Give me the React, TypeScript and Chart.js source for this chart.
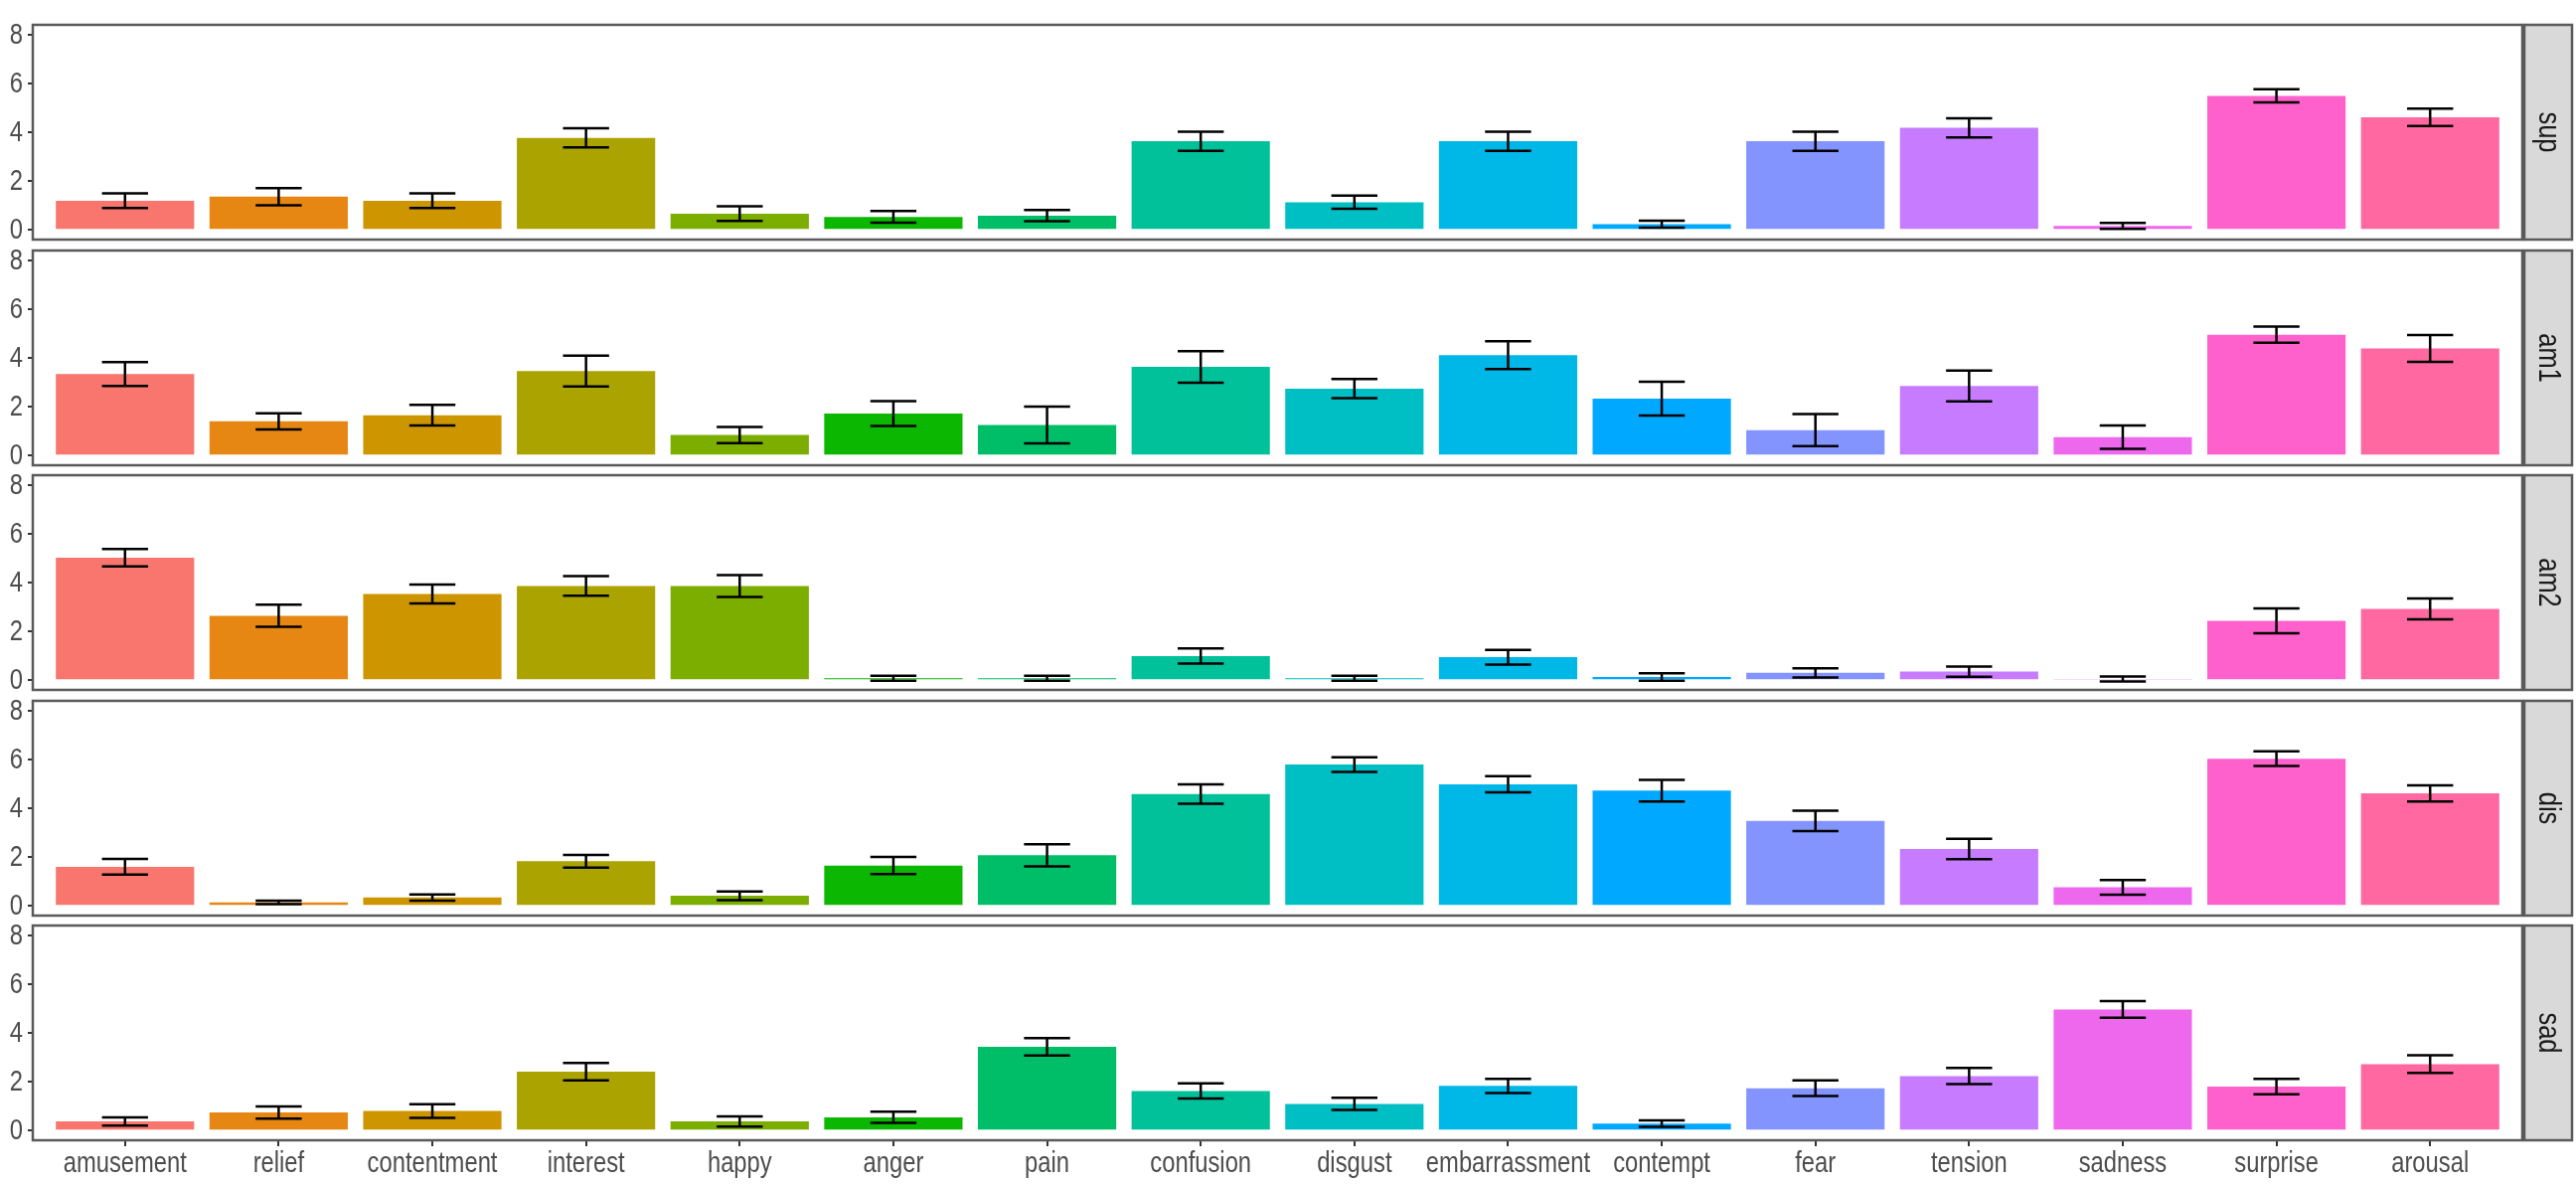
import { useEffect, useRef } from 'react';
import { Chart, registerables } from 'chart.js';

Chart.register(...registerables);

// categories along the x axis
const emotions = [
  'amusement', 'relief', 'contentment', 'interest', 'happy', 'anger', 'pain', 'confusion',
  'disgust', 'embarrassment', 'contempt', 'fear', 'tension', 'sadness', 'surprise', 'arousal',
];

// ggplot hue palette, 16 levels
const barColors = [
  '#F8766D', '#E68613', '#CD9600', '#ABA300', '#7CAE00', '#0CB702', '#00BE67', '#00C19A',
  '#00BFC4', '#00B8E7', '#00A9FF', '#8494FF', '#C77CFF', '#ED68ED', '#FF61CC', '#FF68A1',
];

const yTicks = [0, 2, 4, 6, 8];

// mean ratings and standard errors per condition
const supMean = [1.19, 1.36, 1.19, 3.77, 0.66, 0.53, 0.58, 3.63, 1.13, 3.63, 0.23, 3.63, 4.18, 0.16, 5.49, 4.61];
const supErr = [0.3, 0.35, 0.3, 0.39, 0.3, 0.24, 0.23, 0.39, 0.27, 0.39, 0.14, 0.39, 0.39, 0.12, 0.27, 0.36];

const am1Mean = [3.34, 1.4, 1.65, 3.46, 0.84, 1.72, 1.25, 3.63, 2.74, 4.11, 2.33, 1.04, 2.85, 0.75, 4.95, 4.39];
const am1Err = [0.49, 0.33, 0.42, 0.63, 0.33, 0.51, 0.75, 0.65, 0.39, 0.57, 0.69, 0.66, 0.63, 0.48, 0.33, 0.55];

const am2Mean = [5.02, 2.64, 3.53, 3.86, 3.86, 0.08, 0.08, 0.99, 0.08, 0.94, 0.13, 0.3, 0.35, 0.05, 2.43, 2.92];
const am2Err = [0.36, 0.45, 0.39, 0.4, 0.45, 0.1, 0.1, 0.31, 0.1, 0.3, 0.15, 0.19, 0.21, 0.1, 0.51, 0.43];

const disMean = [1.6, 0.14, 0.34, 1.83, 0.41, 1.65, 2.07, 4.58, 5.79, 4.98, 4.72, 3.48, 2.33, 0.76, 6.03, 4.61];
const disErr = [0.32, 0.07, 0.13, 0.26, 0.18, 0.35, 0.45, 0.4, 0.3, 0.33, 0.44, 0.42, 0.42, 0.3, 0.3, 0.33];

const sadMean = [0.37, 0.74, 0.8, 2.41, 0.37, 0.54, 3.43, 1.62, 1.09, 1.83, 0.28, 1.73, 2.23, 4.96, 1.8, 2.72];
const sadErr = [0.17, 0.25, 0.28, 0.36, 0.21, 0.23, 0.36, 0.31, 0.25, 0.29, 0.13, 0.32, 0.33, 0.34, 0.32, 0.36];

const panels = [
  { name: 'sup', mean: supMean, err: supErr },
  { name: 'am1', mean: am1Mean, err: am1Err },
  { name: 'am2', mean: am2Mean, err: am2Err },
  { name: 'dis', mean: disMean, err: disErr },
  { name: 'sad', mean: sadMean, err: sadErr },
];

const FONT = "'Liberation Sans', Arial, sans-serif";
const NARROW = 0.82; // the original uses a narrow face, so squeeze the text
const W = 2592;
const PANEL_TOP = 25;
const PANEL_STEP = 226.5;
const PANEL_H = 216;

// draw text squeezed horizontally, like Arial Narrow
function narrowText(ctx: CanvasRenderingContext2D, text: string, x: number, y: number, rot = 0) {
  ctx.save();
  ctx.translate(x, y);
  if (rot) ctx.rotate(rot);
  ctx.scale(NARROW, 1);
  ctx.fillText(text, 0, 0);
  ctx.restore();
}

const Panel = ({
  name, mean, err, index, last,
}: { name: string; mean: number[]; err: number[]; index: number; last: boolean }) => {
  const canvasRef = useRef<HTMLCanvasElement | null>(null);
  const height = last ? 1191 - (PANEL_TOP + index * PANEL_STEP - 5) : 226;

  useEffect(() => {
    if (!canvasRef.current) return;

    // error bars, panel frame, axis text and facet strip
    const facetPlugin = {
      id: 'facet',
      afterDatasetsDraw(chart: any) {
        const { ctx, scales } = chart;
        const xs = scales.x;
        const ys = scales.y;
        const half = xs.getPixelForValue(0.15) - xs.getPixelForValue(0);
        ctx.save();
        ctx.strokeStyle = '#000';
        ctx.lineWidth = 2.5;
        mean.forEach((m, i) => {
          const x = xs.getPixelForValue(i);
          const yHi = ys.getPixelForValue(m + err[i]);
          const yLo = ys.getPixelForValue(m - err[i]);
          ctx.beginPath();
          ctx.moveTo(x, yHi);
          ctx.lineTo(x, yLo);
          ctx.moveTo(x - half, yHi);
          ctx.lineTo(x + half, yHi);
          ctx.moveTo(x - half, yLo);
          ctx.lineTo(x + half, yLo);
          ctx.stroke();
        });
        ctx.restore();
      },
      afterDraw(chart: any) {
        const { ctx, chartArea: a, scales } = chart;
        ctx.save();
        ctx.strokeStyle = '#5a5a5a';
        ctx.lineWidth = 2.5;
        ctx.strokeRect(a.left, a.top, a.right - a.left, a.bottom - a.top);

        // y tick labels
        ctx.fillStyle = '#4D4D4D';
        ctx.font = `29px ${FONT}`;
        ctx.textAlign = 'right';
        ctx.textBaseline = 'middle';
        yTicks.forEach((v) => narrowText(ctx, String(v), a.left - 10, scales.y.getPixelForValue(v) + 1));

        // x tick labels on the bottom panel only
        if (last) {
          ctx.textAlign = 'center';
          emotions.forEach((e, i) => narrowText(ctx, e, scales.x.getPixelForValue(i), a.bottom + 24));
        }

        // strip on the right
        const sx = a.right + 2;
        const sw = 48;
        ctx.fillStyle = '#D9D9D9';
        ctx.fillRect(sx, a.top, sw, a.bottom - a.top);
        ctx.strokeRect(sx, a.top, sw, a.bottom - a.top);
        ctx.fillStyle = '#1A1A1A';
        ctx.font = `31px ${FONT}`;
        ctx.textAlign = 'center';
        ctx.textBaseline = 'middle';
        narrowText(ctx, name, sx + sw / 2, (a.top + a.bottom) / 2, Math.PI / 2);
        ctx.restore();
      },
    };

    const chart = new Chart(canvasRef.current, {
      type: 'bar',
      data: {
        datasets: [
          {
            data: mean.map((v, i) => ({ x: i, y: v })),
            backgroundColor: barColors,
            borderWidth: 0,
            barPercentage: 0.9,
            categoryPercentage: 1,
          },
        ],
      },
      options: {
        animation: false,
        responsive: false,
        maintainAspectRatio: false,
        layout: { padding: { top: 5, right: 54, bottom: last ? 0 : 5, left: 0 } },
        plugins: { legend: { display: false }, tooltip: { enabled: false } },
        scales: {
          x: {
            type: 'linear',
            min: -0.6,
            max: 15.6,
            offset: false,
            display: last,
            afterBuildTicks: (s: any) => {
              s.ticks = emotions.map((_, i) => ({ value: i }));
            },
            afterFit: (s: any) => {
              s.height = last ? height - 5 - PANEL_H : 0;
            },
            ticks: { display: false },
            grid: { drawOnChartArea: false, offset: false, tickLength: 6, color: '#333', lineWidth: 2 },
            border: { display: false },
          },
          y: {
            min: -0.4,
            max: 8.4,
            afterBuildTicks: (s: any) => {
              s.ticks = yTicks.map((v) => ({ value: v }));
            },
            afterFit: (s: any) => {
              s.width = 33;
            },
            ticks: { display: false },
            grid: { drawOnChartArea: false, offset: false, tickLength: 5, color: '#333', lineWidth: 2 },
            border: { display: false },
          },
        },
      },
      plugins: [facetPlugin],
    });

    return () => {
      chart.destroy();
    };
  }, [name, mean, err, last, height]);

  return (
    <canvas
      ref={canvasRef}
      width={W}
      height={height}
      style={{
        position: 'absolute',
        left: 0,
        top: PANEL_TOP + index * PANEL_STEP - 5,
        width: W,
        height,
      }}
    />
  );
};

export default function App() {
  return (
    <div style={{ position: 'fixed', left: 0, top: 0, width: W, height: 1191, background: '#fff' }}>
      {panels.map((p, i) => (
        <Panel key={p.name} name={p.name} mean={p.mean} err={p.err} index={i} last={i === panels.length - 1} />
      ))}
    </div>
  );
}
